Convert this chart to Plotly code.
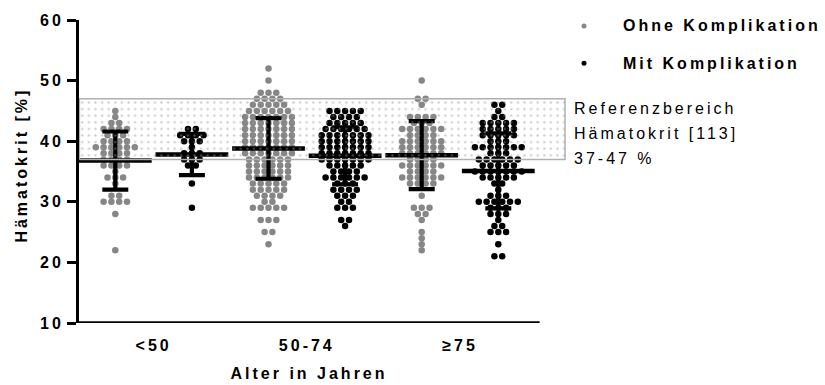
import plotly.graph_objects as go

# ---------------- data ----------------
categories = ["<50", "50-74", "≥75"]
series_names = ["Ohne Komplikation", "Mit Komplikation"]

# Hämatokrit values (level -> number of patients)
ohne_lt50_levels = [45, 44, 43, 42, 41, 40, 39, 38, 37, 36, 35, 34, 33, 31, 30, 28, 22]
ohne_lt50_counts = [1, 1, 2, 4, 3, 4, 6, 4, 4, 4, 1, 3, 1, 2, 4, 1, 1]

mit_lt50_levels = [42, 41, 40, 39, 38, 37, 36, 33, 29]
mit_lt50_counts = [2, 4, 3, 1, 3, 3, 2, 1, 1]

ohne_5074_levels = [52, 50, 48, 47, 46, 45, 44, 43, 42, 41, 40, 39, 38, 37, 36, 35, 34, 33, 32, 31, 30, 29, 27, 25, 23]
ohne_5074_counts = [1, 1, 3, 4, 5, 6, 7, 7, 7, 7, 7, 7, 7, 6, 6, 6, 6, 5, 5, 4, 2, 5, 3, 2, 1]

mit_5074_levels = [45, 44, 43, 42, 41, 40, 39, 38, 37, 36, 35, 34, 33, 32, 31, 30, 29, 27, 26]
mit_5074_counts = [5, 4, 5, 6, 7, 7, 7, 7, 7, 5, 4, 6, 3, 4, 3, 2, 3, 2, 1]

ohne_ge75_levels = [50, 47, 46, 44, 43, 42, 41, 40, 39, 38, 37, 36, 35, 34, 33, 31, 29, 28, 27, 25, 24, 23, 22]
ohne_ge75_counts = [1, 2, 1, 4, 3, 6, 4, 6, 6, 6, 4, 6, 4, 6, 4, 1, 3, 2, 1, 1, 1, 1, 1]

mit_ge75_levels = [46, 45, 44, 43, 42, 41, 40, 39, 38, 37, 36, 35, 34, 33, 32, 31, 30, 29, 28, 27, 26, 25, 23, 21]
mit_ge75_counts = [2, 1, 2, 5, 5, 5, 3, 7, 3, 6, 5, 7, 5, 2, 1, 3, 6, 3, 3, 1, 2, 3, 1, 2]

# mean and standard deviation per group (order: <50 ohne, <50 mit, 50-74 ohne, 50-74 mit, >=75 ohne, >=75 mit)
group_means = [36.8, 37.8, 38.8, 37.6, 37.7, 35.1]
group_sds = [4.8, 3.4, 5.0, 4.7, 5.6, 6.2]

ref_low, ref_high = 37, 47
ref_text = ["Referenzbereich", "Hämatokrit [113]", "37-47 %"]

# ---------------- styling ----------------
GRAY = "#868686"
BLACK = "#000000"
FONT = "Liberation Sans, Arial, sans-serif"
FS = 16
PX_PER_UNIT = 76.6
DOT_STEP = 7.8 / PX_PER_UNIT

groups = [
    (ohne_lt50_levels, ohne_lt50_counts, GRAY),
    (mit_lt50_levels, mit_lt50_counts, BLACK),
    (ohne_5074_levels, ohne_5074_counts, GRAY),
    (mit_5074_levels, mit_5074_counts, BLACK),
    (ohne_ge75_levels, ohne_ge75_counts, GRAY),
    (mit_ge75_levels, mit_ge75_counts, BLACK),
]

xs = {GRAY: [], BLACK: []}
ys = {GRAY: [], BLACK: []}
for gi, (levels, counts, col) in enumerate(groups):
    center = gi + 0.5
    for lv, n in zip(levels, counts):
        for k in range(n):
            xs[col].append(center + (k - (n - 1) / 2) * DOT_STEP)
            ys[col].append(lv)

fig = go.Figure()
for col, name in [(GRAY, series_names[0]), (BLACK, series_names[1])]:
    fig.add_trace(go.Scatter(
        x=xs[col], y=ys[col], mode="markers", name=name, showlegend=False,
        marker=dict(color=col, size=6.5, line=dict(width=0)),
        hoverinfo="y",
    ))

centers = [i + 0.5 for i in range(len(group_means))]
fig.add_trace(go.Scatter(
    x=centers, y=group_means, mode="markers", showlegend=False,
    marker=dict(symbol="line-ew", size=52, color=BLACK, line=dict(color=BLACK, width=4.5)),
    error_y=dict(type="data", array=group_sds, visible=True, color=BLACK, thickness=4.2, width=13),
    hoverinfo="y",
))

x_lo = 2 / PX_PER_UNIT
x_hi = x_lo + 491 / PX_PER_UNIT
band_right = 488 / PX_PER_UNIT

# reference band drawn on top with a dotted pattern
fig.add_trace(go.Scatter(
    x=[x_lo + 0.005, band_right, band_right, x_lo + 0.005, x_lo + 0.005],
    y=[ref_low, ref_low, ref_high, ref_high, ref_low],
    mode="lines", fill="toself", fillcolor="rgba(0,0,0,0)",
    fillpattern=dict(shape=".", fgcolor="#959595", bgcolor="rgba(0,0,0,0)", size=6.6, solidity=0.1),
    line=dict(color="#b0b0b0", width=1.5), showlegend=False, hoverinfo="skip",
))

# x axis line
fig.add_shape(type="line", xref="x", yref="y", x0=x_lo - 0.02, x1=6.04, y0=10, y1=10,
              line=dict(color=BLACK, width=3.5))

W, H, L, B = 491, 308, 79, 323
def px(x):
    return (x - L) / W
def py(y):
    return (B - y) / H

# manual legend
for yy, col, name in [(21, GRAY, series_names[0]), (59, BLACK, series_names[1])]:
    fig.add_shape(type="circle", xref="paper", yref="paper", xsizemode="pixel", ysizemode="pixel",
                  xanchor=px(584), yanchor=py(yy), x0=-2.5, x1=2.5, y0=-2.5, y1=2.5,
                  fillcolor=col, line=dict(width=0))
    fig.add_annotation(xref="paper", yref="paper", x=px(621), y=py(yy), text=name,
                       xanchor="left", yanchor="middle", align="left", showarrow=False,
                       font=dict(family=FONT, size=FS, color=BLACK, weight="bold"))

for yy, t in zip([105, 130, 156], ref_text):
    fig.add_annotation(xref="paper", yref="paper", x=px(572), y=py(yy), text=t,
                       xanchor="left", yanchor="middle", align="left", showarrow=False,
                       font=dict(family=FONT, size=FS, color=BLACK))

fig.add_annotation(xref="paper", yref="paper", x=px(22), y=py(163), text="Hämatokrit [%]",
                   textangle=-90, xanchor="center", yanchor="middle", showarrow=False,
                   font=dict(family=FONT, size=FS, color=BLACK, weight="bold"))
fig.add_annotation(xref="paper", yref="paper", x=px(309), y=py(374), text="Alter in Jahren",
                   xanchor="center", yanchor="middle", showarrow=False,
                   font=dict(family=FONT, size=FS, color=BLACK, weight="bold"))

fig.update_layout(
    width=825, height=385,
    margin=dict(l=L, r=825 - L - W, t=15, b=385 - 15 - H),
    plot_bgcolor="white", paper_bgcolor="white", showlegend=False,
    font=dict(family=FONT, size=FS, color=BLACK),
    xaxis=dict(range=[x_lo, x_hi], showline=False, showgrid=False, zeroline=False,
               tickvals=[1, 3, 5], ticktext=categories, ticks="", ticklabelstandoff=11,
               tickfont=dict(family=FONT, size=FS, color=BLACK, weight="bold")),
    yaxis=dict(range=[10, 60], tickvals=[10, 20, 30, 40, 50, 60], showline=True, linewidth=3,
               linecolor=BLACK, ticks="outside", ticklen=9, tickwidth=3, tickcolor=BLACK,
               showgrid=False, zeroline=False,
               tickfont=dict(family=FONT, size=FS, color=BLACK, weight="bold")),
)

post = """
var s = document.createElement('style');
s.textContent = 'svg text { letter-spacing: 3px; }';
document.head.appendChild(s);
"""
fig.write_html("out.html", post_script=post)
